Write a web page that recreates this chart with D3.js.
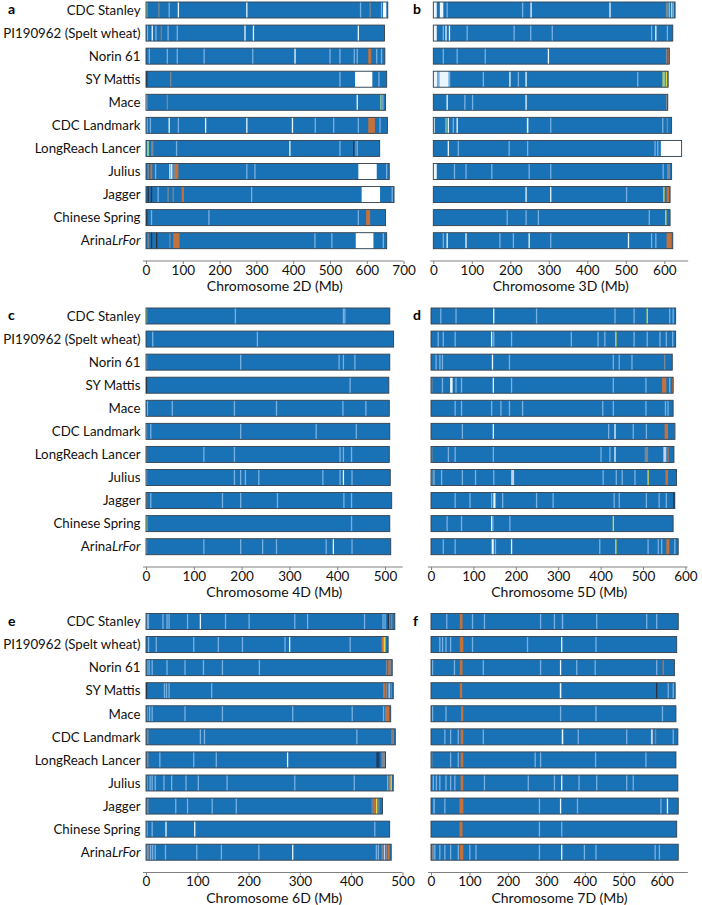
<!DOCTYPE html>
<html><head><meta charset="utf-8">
<script src="https://cdn.jsdelivr.net/npm/d3@7"></script>
<style>body{margin:0;background:#fff}</style>
</head><body><svg id="chart" width="702" height="905"></svg>
<script>
// ---------------- data ----------------
const cultivars = ["CDC Stanley","PI190962 (Spelt wheat)","Norin 61","SY Mattis","Mace","CDC Landmark","LongReach Lancer","Julius","Jagger","Chinese Spring","ArinaLrFor"];
const panelLetters = ["a","b","c","d","e","f"];
const chromosomes = ["2D","3D","4D","5D","6D","7D"];
const ticks2D = [0,100,200,300,400,500,600,700];
const ticks3D = [0,100,200,300,400,500,600];
const ticks4D = [0,100,200,300,400,500];
const ticks5D = [0,100,200,300,400,500,600];
const ticks6D = [0,100,200,300,400,500];
const ticks7D = [0,100,200,300,400,500,600];

// chromosome lengths (Mb) per cultivar
const len2D = [657,648,649,654,651,656,635,661,674,651,654];
const len3D = [628,622,613,610,609,619,645,619,615,615,622];
const len4D = [510,518,510,508,509,510,509,511,514,510,512];
const len5D = [577,577,569,571,571,575,573,579,575,571,583];
const len6D = [485,472,480,482,477,486,467,482,461,475,478];
const len7D = [643,639,633,635,637,642,637,642,643,639,643];

// stripes: [pos,type] thin line, or [start,end,type] block (Mb)
// types: w white, l light blue, o orange, y yellow, g green, k grey, d dark, v lavender, n navy, gap = missing
const str2D = [
 [[2,'g'],[35,'k'],[63,'l'],[88,'w'],[274,'w'],[583,'l'],[609,'k'],[640,'l'],[644,653,'gap']],
 [[4,'l'],[17,'w'],[27,'l'],[40,43,'o'],[60,'l'],[85,'l'],[269,'w'],[292,'w'],[577,'w']],
 [[9,'l'],[58,'l'],[85,'l'],[158,'l'],[290,'l'],[405,'w'],[500,'l'],[527,'l'],[566,'l'],[574,'l'],[604,612,'o'],[627,'l'],[640,'l']],
 [[2,'d'],[67,'k'],[527,'l'],[568,615,'gap'],[633,'l']],
 [[1,3,'w'],[58,'k'],[574,'w'],[638,'g'],[642,'l'],[645,'k']],
 [[3,'l'],[12,'l'],[63,'w'],[88,'l'],[162,'w'],[274,'w'],[398,'w'],[460,'l'],[510,'l'],[577,'l'],[604,622,'o'],[636,'l']],
 [[2,8,'g'],[14,20,'k'],[83,'l'],[391,'w'],[527,'l'],[563,566,'d'],[570,'k'],[574,'l']],
 [[6,'k'],[12,17,'o'],[26,'l'],[65,'w'],[70,'w'],[74,88,'o'],[78,'k'],[274,'l'],[296,'l'],[577,627,'gap'],[654,'l']],
 [[6,'d'],[15,'d'],[33,'l'],[60,'k'],[74,'k'],[97,103,'o'],[287,'l'],[586,636,'gap'],[669,'l']],
 [[2,'d'],[15,'l'],[171,'l'],[577,'l'],[598,609,'o']],
 [[6,'k'],[15,'d'],[29,'d'],[65,'k'],[74,91,'o'],[459,'l'],[505,'l'],[570,618,'gap'],[645,'l']]
];
const str3D = [
 [[0,9,'w'],[17,26,'w'],[36,'l'],[232,'l'],[254,'w'],[459,'w'],[604,610,'k'],[613,'g'],[619,'y'],[623,'l']],
 [[0,9,'w'],[26,'l'],[33,'w'],[42,'w'],[88,'l'],[210,'l'],[253,'l'],[309,'l'],[567,'l'],[578,'w'],[608,'l']],
 [[26,'l'],[62,'l'],[135,'l'],[299,'w'],[606,'k'],[610,613,'o']],
 [[0,10,'w'],[10,16,'l'],[16,40,'w'],[40,44,'l'],[130,'l'],[199,'w'],[221,'l'],[241,'w'],[531,'l'],[597,'y'],[601,'g'],[606,'y']],
 [[36,'w'],[82,'l'],[102,'l'],[241,'w'],[606,'k']],
 [[2,'w'],[33,'g'],[39,'w'],[52,'l'],[62,'w'],[243,247,'w'],[305,'l'],[596,'l'],[608,'k']],
 [[39,'w'],[65,'l'],[197,'l'],[245,'l'],[576,'l'],[583,'l'],[591,645,'gap']],
 [[0,9,'w'],[55,'l'],[85,'l'],[152,'l'],[249,'l'],[305,'l'],[597,'l'],[607,615,'k']],
 [[241,'w'],[305,'w'],[502,'l'],[599,'y'],[606,613,'o']],
 [[192,'l'],[241,'l'],[273,'l'],[561,'l'],[604,'y']],
 [[26,'l'],[36,'w'],[85,'w'],[173,'l'],[208,'l'],[249,'w'],[305,'l'],[507,'w'],[567,'l'],[578,'l'],[606,619,'o']]
];
const str4D = [
 [[1,'g'],[187,'l'],[413,'l'],[416,'l']],
 [[14,'l'],[233,'l']],
 [[1,'l'],[198,'l'],[404,'l'],[413,'l'],[437,'l']],
 [[1,'d'],[427,'l']],
 [[3,'l'],[55,'l'],[185,'l'],[273,'l'],[412,'l'],[460,'l']],
 [[1,'l'],[10,'l'],[198,'l'],[356,'l'],[440,'l']],
 [[1,'k'],[121,'l'],[185,'l'],[406,'l'],[413,'l'],[430,'l']],
 [[1,'l'],[185,'l'],[198,'l'],[208,'l'],[236,'l'],[370,'l'],[406,'l'],[413,'w'],[431,'l']],
 [[1,'k'],[10,'l'],[160,'l'],[198,'l'],[275,'l'],[414,'l'],[430,'l']],
 [[0,3,'g'],[430,'l']],
 [[1,'l'],[121,'l'],[198,'l'],[244,'l'],[273,'l'],[377,'l'],[392,'w'],[431,'l']]
];
const str5D = [
 [[23,'l'],[59,'l'],[148,'w'],[249,'l'],[434,'l'],[479,'l'],[510,'y'],[563,'l'],[571,'l']],
 [[17,'l'],[29,'l'],[57,'l'],[143,'w'],[148,'l'],[190,'l'],[331,'l'],[394,'l'],[410,'l'],[436,'y'],[479,'l'],[510,'l'],[540,'l'],[555,'l'],[570,'l']],
 [[12,'l'],[21,'l'],[27,'l'],[145,'w'],[185,'l'],[430,'l'],[444,'l'],[474,'l'],[551,'k']],
 [[2,'k'],[27,'l'],[45,51,'w'],[59,'l'],[72,'l'],[147,'w'],[190,'l'],[430,'l'],[507,'l'],[545,555,'o'],[563,'l'],[570,'o']],
 [[57,'l'],[72,'l'],[143,'l'],[165,'l'],[185,'l'],[216,'l'],[405,'l'],[430,'l'],[507,'l'],[553,'l'],[559,'l']],
 [[74,'l'],[147,'w'],[419,'l'],[434,'w'],[477,'l'],[508,'l'],[551,559,'o'],[575,'l']],
 [[2,'k'],[41,'l'],[57,'l'],[147,'l'],[401,'l'],[422,'l'],[434,'w'],[504,512,'k'],[548,555,'v'],[559,'o']],
 [[2,'k'],[7,'l'],[25,'l'],[74,'l'],[105,'l'],[148,'l'],[189,196,'v'],[406,'l'],[437,'l'],[451,'l'],[481,'l'],[512,'y'],[553,559,'o']],
 [[57,'l'],[92,'l'],[143,'l'],[147,152,'w'],[169,'l'],[249,'l'],[288,'l'],[432,'l'],[444,'l'],[508,'l'],[538,'l'],[555,'l'],[573,'d']],
 [[38,'l'],[72,'l'],[143,'w'],[146,'l'],[186,'l'],[430,'y']],
 [[29,'l'],[57,'l'],[143,148,'w'],[152,'l'],[190,'w'],[398,'l'],[436,'y'],[512,'l'],[536,'l'],[544,'l'],[555,562,'o'],[575,'l']]
];
const str6D = [
 [[1,6,'l'],[33,'l'],[41,'l'],[45,'l'],[81,'l'],[106,'w'],[155,'l'],[201,'l'],[290,'l'],[315,'l'],[426,'l'],[462,'l'],[466,'l'],[471,474,'d'],[474,476,'o'],[479,'k']],
 [[5,'l'],[20,'l'],[93,'l'],[141,'l'],[188,'l'],[271,'l'],[280,'w'],[398,'l'],[459,463,'o'],[463,467,'y']],
 [[1,4,'k'],[6,'l'],[12,'l'],[41,'l'],[76,'l'],[112,'l'],[149,'l'],[221,'l'],[469,'k'],[472,476,'o'],[477,'k']],
 [[1,'d'],[36,'l'],[40,'l'],[45,'l'],[128,'l'],[462,467,'o'],[469,'k'],[474,'v'],[478,'k']],
 [[1,4,'k'],[7,'l'],[12,'l'],[76,'l'],[149,'l'],[286,'l'],[402,'l'],[463,'l'],[466,474,'o']],
 [[1,5,'k'],[106,'l'],[114,'l'],[411,'l'],[478,481,'o'],[482,'k']],
 [[1,5,'k'],[27,'l'],[93,'l'],[137,'l'],[276,'w'],[449,455,'n'],[459,467,'k']],
 [[1,4,'k'],[8,'l'],[12,'l'],[18,'l'],[35,'l'],[50,'l'],[78,'l'],[102,'l'],[158,'l'],[290,'l'],[406,'l'],[471,'l'],[473,477,'o'],[478,'y']],
 [[1,5,'k'],[58,'l'],[81,'l'],[129,'l'],[176,'l'],[441,'k'],[443,447,'o'],[448,451,'y'],[454,'k']],
 [[2,'l'],[12,'l'],[39,'w'],[95,'w'],[446,'l']],
 [[2,'l'],[5,'k'],[9,'l'],[13,'l'],[18,'l'],[38,'l'],[99,'l'],[147,'l'],[220,'l'],[286,'w'],[449,'l'],[453,'l'],[459,463,'k'],[465,'v'],[469,'k'],[471,475,'o']]
];
const str7D = [
 [[41,'l'],[75,82,'o'],[108,'l'],[139,'l'],[285,'l'],[321,'l'],[340,344,'l'],[431,'l'],[561,'l'],[587,'l']],
 [[23,'l'],[30,'l'],[39,'l'],[51,'l'],[75,84,'o'],[108,'l'],[251,'l'],[340,'w'],[429,'l']],
 [[4,'l'],[61,'l'],[75,82,'o'],[136,'l'],[285,'l'],[337,'w'],[379,'l'],[427,'l'],[587,'l'],[604,'o']],
 [[75,81,'o'],[335,339,'w'],[587,'d'],[617,'l'],[630,'l']],
 [[4,'l'],[39,'l'],[78,84,'o'],[337,'l'],[429,'l'],[602,'l']],
 [[36,'l'],[51,'l'],[71,'l'],[77,84,'o'],[136,'l'],[340,344,'w'],[383,'l'],[509,'l'],[572,577,'v'],[584,'k'],[630,'l']],
 [[2,'k'],[51,'l'],[71,'l'],[77,84,'o'],[271,'l'],[285,'l'],[428,'l'],[559,'l']],
 [[6,'l'],[14,'l'],[23,'l'],[39,'l'],[51,'l'],[62,'l'],[77,84,'o'],[139,'l'],[253,'l'],[321,'l'],[340,'w'],[385,'l'],[431,'l'],[509,'l'],[526,'l']],
 [[6,10,'l'],[36,'l'],[74,84,'o'],[282,'l'],[337,'w'],[381,'l'],[598,'l'],[615,'w']],
 [[74,82,'o'],[282,'l'],[340,'l']],
 [[2,8,'k'],[10,'l'],[23,'l'],[36,'l'],[51,'l'],[71,'l'],[75,84,'o'],[101,'l'],[117,'l'],[282,'l'],[340,'w'],[399,'l'],[429,'l'],[583,'l'],[594,'l']]
];

// ---------------- drawing ----------------
const lengths = [len2D,len3D,len4D,len5D,len6D,len7D];
const stripes = [str2D,str3D,str4D,str5D,str6D,str7D];
const tickSets = [ticks2D,ticks3D,ticks4D,ticks5D,ticks6D,ticks7D];
// layout (pixels)
const colX0 = [146,433.3,146,431,146,431];
const pxPer100 = [36.8,38.5,47.8,42.4,51.3,38.45];
const axisMax = [700,662,537,605,500,668];
const rowTop = [10,10,316,316,621.5,621.5];
const rowStep = 23.07, barH = 16;

const colors = {w:"#eaf5fd", l:"#78b0e2", o:"#c4713c", y:"#ddd84c", g:"#8ccb9c", k:"#7d8792", d:"#27303c", v:"#c5cfec", n:"#1b3c6a", gap:"#ffffff"};
const blue = "#1a72b6";
const svg = d3.select("#chart");
const font = "Lato, 'Open Sans', sans-serif";

for (let p = 0; p < 6; p++) {
  const x = d3.scaleLinear().domain([0,100]).range([colX0[p], colX0[p] + pxPer100[p]]);
  const g = svg.append("g");
  const yc = i => rowTop[p] + i * rowStep;
  // panel letter
  g.append("text").attr("x", p % 2 === 0 ? 8 : 413).attr("y", rowTop[p] + 4)
    .attr("font-family", font).attr("font-weight", "bold").attr("font-size", 14).text(panelLetters[p]);
  // cultivar labels (left panels only)
  if (p % 2 === 0) {
    cultivars.forEach((c, i) => {
      const t = g.append("text").attr("x", 140.5).attr("y", yc(i)).attr("dy", "0.36em")
        .attr("text-anchor", "end").attr("font-family", font).attr("font-size", 13.3).attr("fill", "#111");
      if (c === "ArinaLrFor") {
        t.append("tspan").text("Arina");
        t.append("tspan").attr("font-style", "italic").text("LrFor");
      } else t.text(c);
    });
  }
  // bars
  cultivars.forEach((c, i) => {
    const L = lengths[p][i];
    const y0 = yc(i) - barH / 2;
    g.append("rect").attr("x", x(0)).attr("y", y0).attr("width", x(L) - x(0)).attr("height", barH).attr("fill", blue);
    stripes[p][i].forEach(s => {
      let x1, x2, type;
      if (s.length === 2) { type = s[1]; x1 = x(s[0]) - 0.65; x2 = x(s[0]) + 0.65; }
      else { type = s[2]; x1 = x(s[0]); x2 = x(Math.min(s[1], L)); }
      g.append("rect").attr("x", Math.max(x1, x(0))).attr("y", y0).attr("width", Math.max(0.8, x2 - Math.max(x1, x(0))))
        .attr("height", barH).attr("fill", colors[type]);
    });
    g.append("rect").attr("x", x(0)).attr("y", y0).attr("width", x(L) - x(0)).attr("height", barH)
      .attr("fill", "none").attr("stroke", "#34404c").attr("stroke-width", 0.9);
  });
  // axis
  const axisY = rowTop[p] + 251;
  const ax = g.append("g").attr("transform", `translate(0,${axisY})`)
    .call(d3.axisBottom(x).tickValues(tickSets[p]).tickSize(3).tickSizeOuter(0).tickPadding(1));
  ax.select(".domain").remove();
  ax.append("line").attr("x1", x(0) - 3).attr("x2", x(axisMax[p])).attr("stroke", "#808080").attr("stroke-width", 1.2);
  ax.selectAll(".tick line").attr("stroke", "#808080");
  ax.selectAll(".tick text").attr("font-family", font).attr("font-size", 13.5).attr("fill", "#111");
  g.append("text").attr("x", (x(0) + x(axisMax[p])) / 2).attr("y", axisY + 30)
    .attr("text-anchor", "middle").attr("font-family", font).attr("font-size", 14).attr("fill", "#111")
    .text(`Chromosome ${chromosomes[p]} (Mb)`);
}
</script></body></html>
